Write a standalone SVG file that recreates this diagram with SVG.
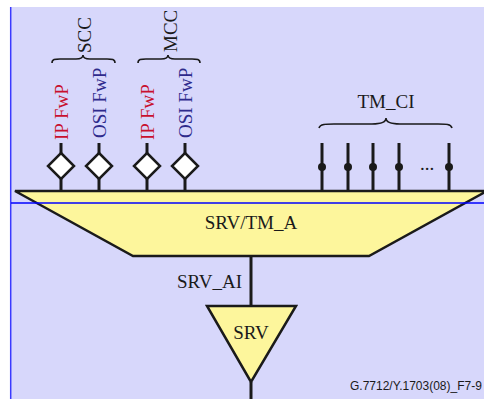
<svg xmlns="http://www.w3.org/2000/svg" width="484" height="399" viewBox="0 0 484 399">
<style>
.t{font-family:"Liberation Serif","Times New Roman",serif;font-size:19px;fill:#1a1a1a}
.ip{fill:#c8102e}
.osi{fill:#2e2a8c}
.ln{stroke:#1a1a1a;stroke-width:3;fill:none}
.br{stroke:#1a1a1a;stroke-width:1.6;fill:none}
.dm{fill:#ffffff;stroke:#1a1a1a;stroke-width:2.5}
.y{fill:#fdf69c;stroke:#1a1a1a;stroke-width:2.5;stroke-linejoin:miter}
.f{font-family:"Liberation Sans",Arial,sans-serif;font-size:12px;fill:#1a1a1a}
</style>
<rect x="10" y="7" width="474" height="392" fill="#d7d7fb"/>
<line x1="10.7" y1="7" x2="10.7" y2="399" stroke="#3a3aff" stroke-width="1.5"/>
<g id="connectors">
<line class="ln" x1="61" y1="143" x2="61" y2="191"/>
<line class="ln" x1="99" y1="143" x2="99" y2="191"/>
<line class="ln" x1="147" y1="143" x2="147" y2="191"/>
<line class="ln" x1="185" y1="143" x2="185" y2="191"/>
<line class="ln" x1="322" y1="143" x2="322" y2="191"/>
<line class="ln" x1="348" y1="143" x2="348" y2="191"/>
<line class="ln" x1="373" y1="143" x2="373" y2="191"/>
<line class="ln" x1="399" y1="143" x2="399" y2="191"/>
<line class="ln" x1="449" y1="143" x2="449" y2="191"/>
<line class="ln" x1="251" y1="256" x2="251" y2="306"/>
<line class="ln" x1="251" y1="382" x2="251" y2="399"/>
</g>
<g id="trapezoid">
<polygon class="y" points="15,191 487,191 369,256 133,256"/>
<text class="t" x="251" y="229" text-anchor="middle">SRV/TM_A</text>
</g>
<line x1="11" y1="203" x2="484" y2="203" stroke="#0000ff" stroke-width="1.5"/>
<g id="srv">
<polygon class="y" points="207,306 296,306 251,382"/>
<text class="t" x="251" y="339" text-anchor="middle">SRV</text>
</g>
<text id="srv_ai" class="t" x="242" y="288" text-anchor="end">SRV_AI</text>
<g id="scc-ip">
<polygon class="dm" points="61,153 74,166 61,179 48,166"/>
<text class="t ip" transform="translate(68,140) rotate(-90)">IP FwP</text>
</g>
<g id="scc-osi">
<polygon class="dm" points="99,153 112,166 99,179 86,166"/>
<text class="t osi" transform="translate(106,138) rotate(-90)">OSI FwP</text>
</g>
<g id="mcc-ip">
<polygon class="dm" points="147,153 160,166 147,179 134,166"/>
<text class="t ip" transform="translate(154,140) rotate(-90)">IP FwP</text>
</g>
<g id="mcc-osi">
<polygon class="dm" points="185,153 198,166 185,179 172,166"/>
<text class="t osi" transform="translate(192,138) rotate(-90)">OSI FwP</text>
</g>
<g id="scc">
<path class="br" d="M52,63 C52,59 55,59 60,59 L76,59 C80,59 83,58 83,55 C83,58 86,59 90,59 L107,59 C112,59 115,59 115,63"/>
<text class="t" transform="translate(91,53) rotate(-90)">SCC</text>
</g>
<g id="mcc">
<path class="br" d="M138,63 C138,59 141,59 146,59 L161,59 C165,59 168,58 168,55 C168,58 171,59 175,59 L192,59 C197,59 200,59 200,63"/>
<text class="t" transform="translate(177,52) rotate(-90)">MCC</text>
</g>
<g id="tm_ci">
<path class="br" d="M319,128 C320,124 326,124 334,124 L372,124 C380,124 386,122 386,118 C386,122 392,124 400,124 L438,124 C446,124 451,124 452,128"/>
<text class="t" x="386" y="108" text-anchor="middle">TM_CI</text>
<circle cx="322" cy="167" r="4" fill="#1a1a1a"/>
<circle cx="348" cy="167" r="4" fill="#1a1a1a"/>
<circle cx="373" cy="167" r="4" fill="#1a1a1a"/>
<circle cx="399" cy="167" r="4" fill="#1a1a1a"/>
<circle cx="449" cy="167" r="4" fill="#1a1a1a"/>
<text class="t" x="427" y="170" text-anchor="middle">...</text>
</g>
<text class="f" x="350" y="390">G.7712/Y.1703(08)_F7-9</text>
</svg>
